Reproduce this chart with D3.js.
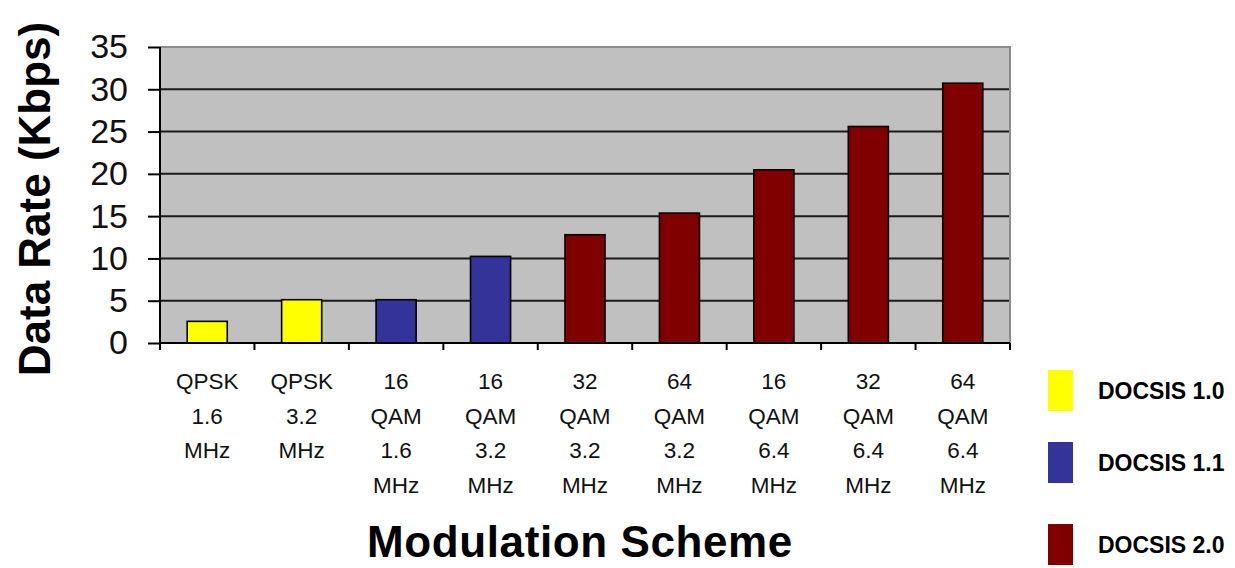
<!DOCTYPE html>
<html>
<head>
<meta charset="utf-8">
<script src="https://cdn.jsdelivr.net/npm/d3@7"></script>
<style>
  html, body { margin: 0; padding: 0; background: #fff; }
  svg { display: block; font-family: Arial, "Liberation Sans", sans-serif; }
</style>
</head>
<body>
<svg id="chart" width="1235" height="568"></svg>
<script>
// Modulation schemes (each label is drawn on several lines)
const categories = [
  "QPSK\n1.6\nMHz",
  "QPSK\n3.2\nMHz",
  "16\nQAM\n1.6\nMHz",
  "16\nQAM\n3.2\nMHz",
  "32\nQAM\n3.2\nMHz",
  "64\nQAM\n3.2\nMHz",
  "16\nQAM\n6.4\nMHz",
  "32\nQAM\n6.4\nMHz",
  "64\nQAM\n6.4\nMHz"
];
// Upstream data rate for each scheme
const dataRates = [2.56, 5.12, 5.12, 10.24, 12.8, 15.36, 20.48, 25.6, 30.72];
// DOCSIS version that introduced each scheme
const versions = ["DOCSIS 1.0", "DOCSIS 1.0", "DOCSIS 1.1", "DOCSIS 1.1",
  "DOCSIS 2.0", "DOCSIS 2.0", "DOCSIS 2.0", "DOCSIS 2.0", "DOCSIS 2.0"];
const legendLabels = ["DOCSIS 1.0", "DOCSIS 1.1", "DOCSIS 2.0"];
const yTicks = [0, 5, 10, 15, 20, 25, 30, 35];

const svg = d3.select("#chart");
const plot = { left: 160, right: 1010, top: 47, bottom: 343 };

const x = d3.scaleBand()
  .domain(d3.range(categories.length))
  .range([plot.left, plot.right])
  .paddingInner(0.576)
  .paddingOuter(0.288);

const y = d3.scaleLinear().domain([0, 35]).range([plot.bottom, plot.top]);

const color = d3.scaleOrdinal()
  .domain(legendLabels)
  .range(["#ffff00", "#333399", "#800000"]);

// plot background
svg.append("rect")
  .attr("x", plot.left).attr("y", plot.top)
  .attr("width", plot.right - plot.left).attr("height", plot.bottom - plot.top)
  .attr("fill", "#c0c0c0");

// horizontal gridlines
svg.append("g")
  .selectAll("line")
  .data(yTicks.filter(t => t > 0 && t < 35))
  .join("line")
  .attr("x1", plot.left).attr("x2", plot.right)
  .attr("y1", d => y(d)).attr("y2", d => y(d))
  .attr("stroke", "#1a1a1a").attr("stroke-width", 2);

// top and right frame of the plot area
svg.append("path")
  .attr("d", `M${plot.left},${plot.top}H${plot.right}V${plot.bottom}`)
  .attr("fill", "none").attr("stroke", "#8c8c8c").attr("stroke-width", 2);

// bars
svg.append("g")
  .selectAll("rect")
  .data(dataRates)
  .join("rect")
  .attr("x", (d, i) => x(i))
  .attr("y", d => y(d))
  .attr("width", x.bandwidth())
  .attr("height", d => y(0) - y(d))
  .attr("fill", (d, i) => color(versions[i]))
  .attr("stroke", "#000").attr("stroke-width", 1.6);

// y axis
const yAxis = d3.axisLeft(y).tickValues(yTicks).tickSize(12).tickPadding(20)
  .tickFormat(d3.format("d"));
const gy = svg.append("g").attr("transform", `translate(${plot.left},0)`).call(yAxis);
gy.select(".domain").attr("stroke", "#000").attr("stroke-width", 2)
  .attr("d", `M0,${plot.top}V${plot.bottom + 7}`);
gy.selectAll(".tick line").attr("stroke", "#000").attr("stroke-width", 2);
gy.selectAll(".tick text")
  .attr("font-size", 34).attr("fill", "#111")
  .attr("font-family", "Arial, 'Liberation Sans', sans-serif");

// x axis baseline and category separators
const bounds = d3.range(categories.length + 1).map(i => plot.left + i * x.step());
svg.append("line")
  .attr("x1", plot.left).attr("x2", plot.right)
  .attr("y1", plot.bottom).attr("y2", plot.bottom)
  .attr("stroke", "#000").attr("stroke-width", 2);
svg.append("g")
  .selectAll("line")
  .data(bounds.slice(1))
  .join("line")
  .attr("x1", d => d).attr("x2", d => d)
  .attr("y1", plot.bottom).attr("y2", plot.bottom + 7)
  .attr("stroke", "#000").attr("stroke-width", 2);

// multi-line category labels
const xl = svg.append("g")
  .selectAll("text")
  .data(categories)
  .join("text")
  .attr("text-anchor", "middle")
  .attr("font-size", 22.5)
  .attr("fill", "#111");
xl.each(function(d, i) {
  const t = d3.select(this);
  d.split("\n").forEach((line, k) => {
    t.append("tspan")
      .attr("x", x(i) + x.bandwidth() / 2)
      .attr("y", 389 + k * 34.7)
      .text(line);
  });
});

// axis titles
svg.append("text")
  .attr("transform", "translate(50,199) rotate(-90)")
  .attr("text-anchor", "middle")
  .attr("font-size", 44).attr("font-weight", "bold")
  .attr("fill", "#000")
  .text("Data Rate (Kbps)");

svg.append("text")
  .attr("x", 580).attr("y", 557)
  .attr("text-anchor", "middle")
  .attr("font-size", 44).attr("font-weight", "bold")
  .attr("letter-spacing", 0.6)
  .attr("fill", "#000")
  .text("Modulation Scheme");

// legend
const legendY = [370, 442, 524];
const lg = svg.append("g")
  .selectAll("g")
  .data(legendLabels)
  .join("g")
  .attr("transform", (d, i) => `translate(1048,${legendY[i]})`);
lg.append("rect")
  .attr("width", 25).attr("height", 41)
  .attr("fill", d => color(d));
lg.append("text")
  .attr("x", 50).attr("y", 20.5)
  .attr("dy", "0.36em")
  .attr("font-size", 23).attr("font-weight", "bold")
  .attr("fill", "#000")
  .text(d => d);
</script>
</body>
</html>
